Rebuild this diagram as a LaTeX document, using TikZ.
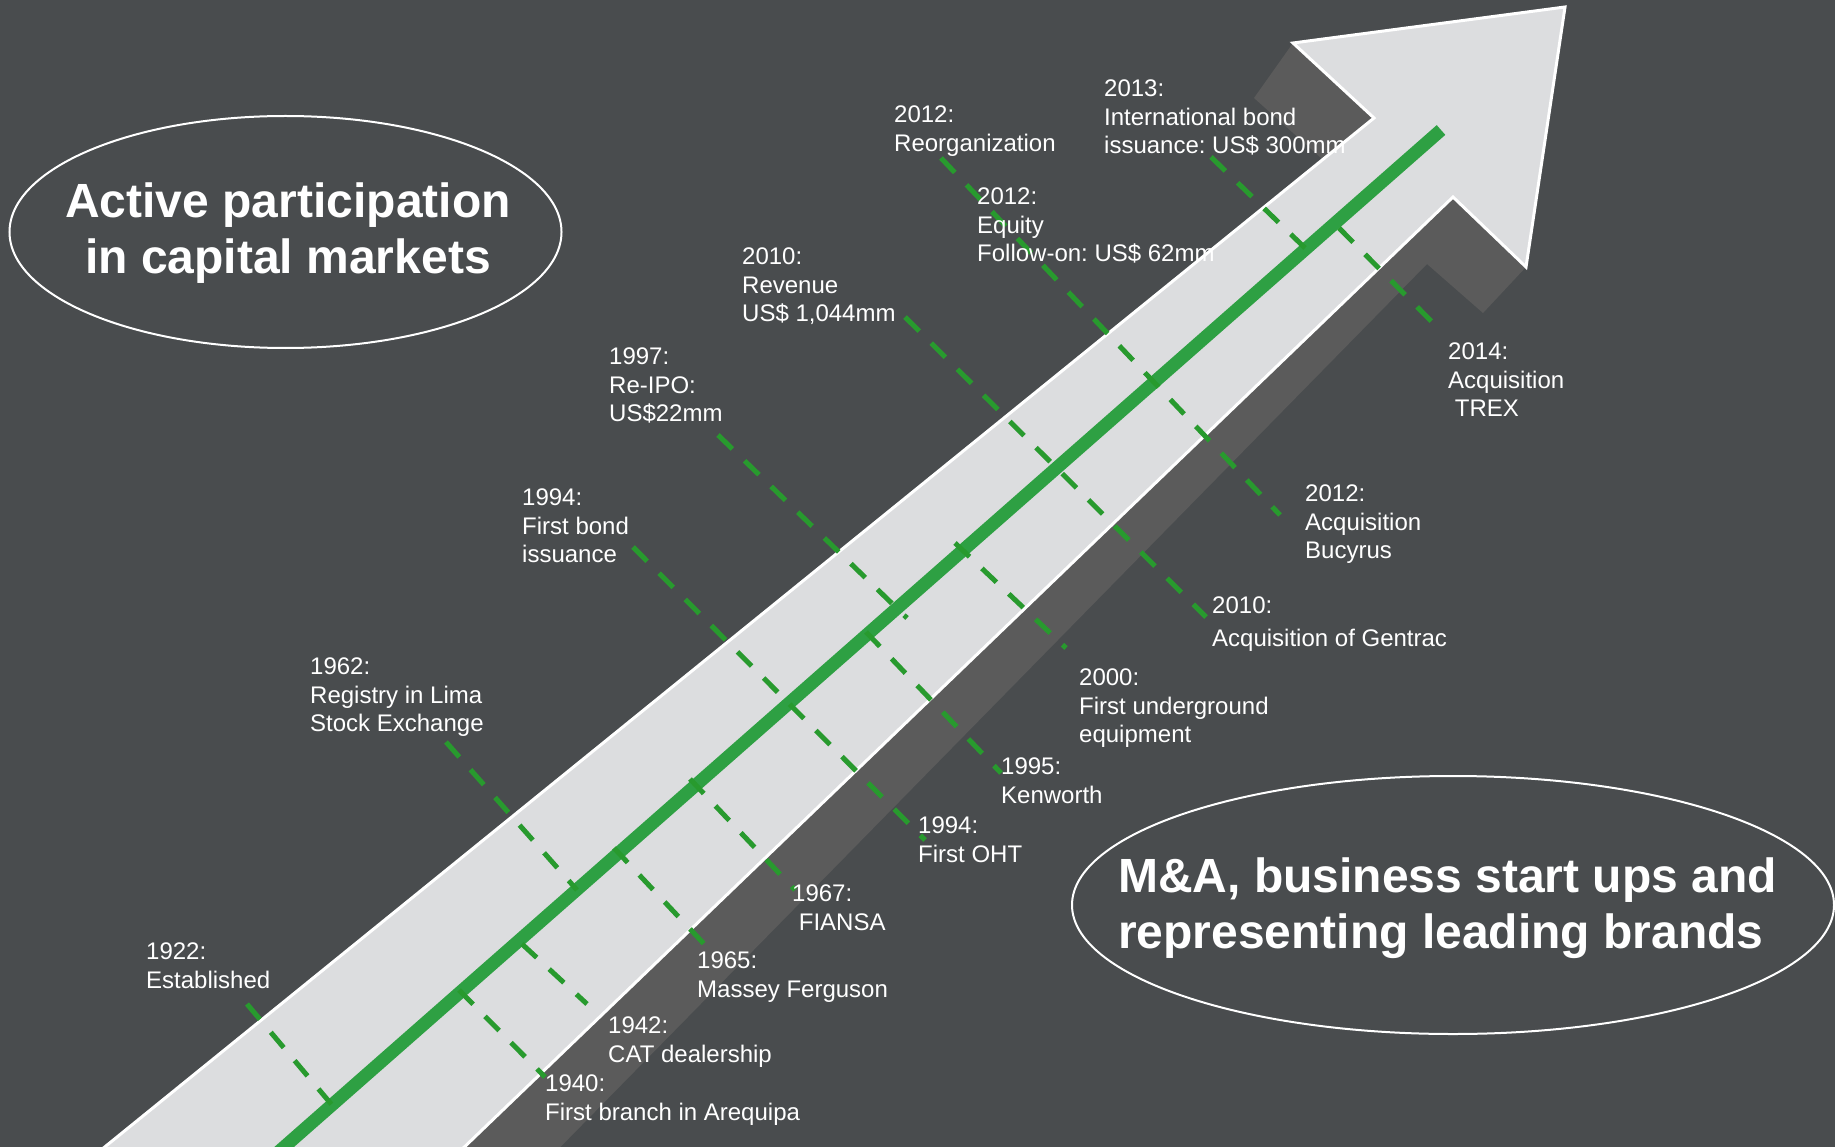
\documentclass[tikz,border=0pt]{standalone}
\usepackage{fontspec}
\setmainfont{Liberation Sans}
\usetikzlibrary{shapes.geometric}
\definecolor{bgc}{HTML}{494C4E}
\definecolor{arrowc}{HTML}{DCDDDF}
\definecolor{shadowc}{HTML}{5B5B5B}
\definecolor{greenc}{HTML}{2EA043}
\definecolor{dashc}{HTML}{289A2E}
\frenchspacing
\begin{document}
\begin{tikzpicture}[x=1pt,y=-1pt,
  lbl/.style={anchor=north west, inner sep=0pt, text=white, align=left, font=\fontsize{24}{28.3}\selectfont},
  evline/.style={draw=dashc, line width=5pt, dash pattern=on 20pt off 17pt},
  bigtxt/.style={text=white, inner sep=0pt, font=\fontsize{48}{56}\selectfont\bfseries},
  oval/.style={draw=white, line width=2pt, ellipse, inner sep=0pt}]
\useasboundingbox (0,0) rectangle (1835,1147);
\fill[bgc] (0,0) rectangle (1835,1147);
\begin{scope}
\clip (0,0) rectangle (1835,1147);
% shadow
\fill[shadowc] (1293,43) -- (1254,98) -- (1340,175) -- (150,1180) -- (528,1180) -- (1427,264) -- (1483,313) -- (1526,267) -- (1565,7) -- cycle;
% arrow
\filldraw[fill=arrowc, draw=white, line width=3pt, line join=miter] (64,1180) -- (1374,118) -- (1293,43) -- (1565,7) -- (1526,267) -- (1453,197) -- (430,1180) -- cycle;
% main green line
\coordinate (gs) at (250,1177);
\coordinate (ge) at (1441,130);
\draw[greenc, line width=13pt] (gs) -- (ge);
\end{scope}
% event line end points
\coordinate (a1) at (247,1004);  \coordinate (b1) at (332,1105);
\coordinate (a2) at (446,742);   \coordinate (b2) at (577,890);
\coordinate (a3) at (633,547);   \coordinate (b3) at (925,840);
\coordinate (a4) at (718,435);   \coordinate (b4) at (907,618);
\coordinate (a5) at (905,317);   \coordinate (b5) at (1206,617);
\coordinate (a6) at (941,158);   \coordinate (b6) at (1280,515);
\coordinate (a7) at (1211,157);  \coordinate (b7) at (1305,248);
\coordinate (a8) at (1339,228);  \coordinate (b8) at (1440,330);
\coordinate (a9) at (866,632);   \coordinate (b9) at (1001,773);
\coordinate (a10) at (955,543);  \coordinate (b10) at (1066,648);
\coordinate (a11) at (690,779);  \coordinate (b11) at (795,890);
\coordinate (a12) at (614,848);  \coordinate (b12) at (706,946);
\coordinate (a13) at (522,944);  \coordinate (b13) at (587,1004);
\coordinate (a14) at (459,990);  \coordinate (b14) at (545,1077);
\foreach \i in {1,...,14} { \draw[evline] (a\i) -- (b\i); }
% ellipses
\node[oval, minimum width=552pt, minimum height=232pt] (e1) at (285.5,232) {};
\node[oval, minimum width=762pt, minimum height=258pt] (e2) at (1453,905) {};
\node[bigtxt, align=center, anchor=north] (t1) at (288,183) {Active participation\\in capital markets};
\node[bigtxt, align=left, anchor=north west] (t2) at (1118,858) {M\&A, business start ups and\\representing leading brands};
% upper-left labels
\node[lbl] (l1922) at (146,943) {1922:\\Established};
\node[lbl] (l1962) at (310,658) {1962:\\Registry in Lima\\Stock Exchange};
\node[lbl] (l1994a) at (522,489) {1994:\\First bond\\issuance};
\node[lbl] (l1997) at (609,348) {1997:\\Re-IPO:\\US\$22mm};
\node[lbl] (l2010a) at (742,248) {2010:\\Revenue\\US\$ 1,044mm};
\node[lbl] (l2012a) at (894,106) {2012:\\Reorganization};
\node[lbl] (l2012b) at (977,188) {2012:\\Equity\\Follow-on: US\$ 62mm};
\node[lbl] (l2013) at (1104,80) {2013:\\International bond\\issuance: US\$ 300mm};
% lower-right labels
\node[lbl] (l1940) at (545,1075) {1940:\\First branch in Arequipa};
\node[lbl] (l1942) at (608,1017) {1942:\\CAT dealership};
\node[lbl] (l1965) at (697,952) {1965:\\Massey Ferguson};
\node[lbl] (l1967) at (792,885) {1967:\\\ FIANSA};
\node[lbl] (l1994b) at (918,817) {1994:\\First OHT};
\node[lbl] (l1995) at (1001,758) {1995:\\Kenworth};
\node[lbl] (l2000) at (1079,669) {2000:\\First underground\\equipment};
\node[lbl] (l2010b) at (1212,597) {2010:\\[4.5pt]Acquisition of Gentrac};
\node[lbl] (l2012c) at (1305,485) {2012:\\Acquisition\\Bucyrus};
\node[lbl] (l2014) at (1448,343) {2014:\\Acquisition\\\ TREX};
\end{tikzpicture}
\end{document}
